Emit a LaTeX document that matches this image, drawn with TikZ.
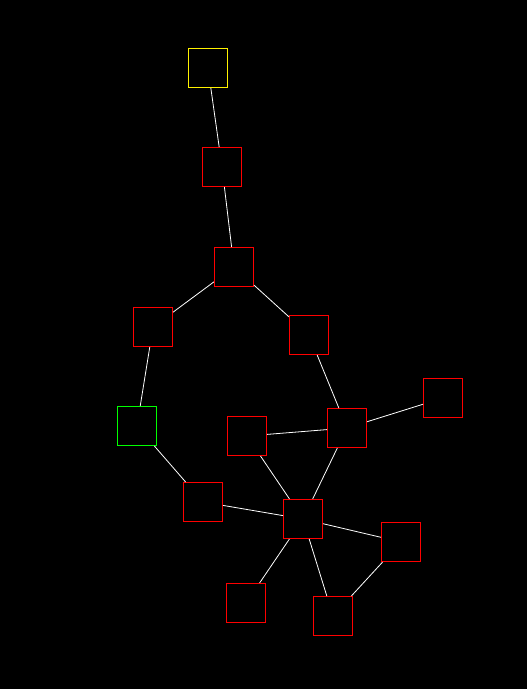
\documentclass[tikz,border=0pt]{standalone}
\begin{document}
\begin{tikzpicture}[x=1pt,y=-1pt,
  box/.style={draw=red,fill=black,line width=1pt,minimum size=39pt,inner sep=0pt,shape=rectangle},
  link/.style={draw=white,line width=0.8pt}]
\fill[black] (0,0) rectangle (527,689);
\useasboundingbox (0,0) rectangle (527,689);
\node[box,draw=yellow] (n1) at (208,68) {};
\node[box] (n2) at (222,167) {};
\node[box] (n3) at (234,267) {};
\node[box] (n4) at (153,327) {};
\node[box] (n5) at (309,335) {};
\node[box,draw=green] (n6) at (137,426) {};
\node[box] (n7) at (247,436) {};
\node[box] (n8) at (347,428) {};
\node[box] (n9) at (443,398) {};
\node[box] (n10) at (203,502) {};
\node[box] (n11) at (303,519) {};
\node[box] (n12) at (401,542) {};
\node[box] (n13) at (246,603) {};
\node[box] (n14) at (333,616) {};
\draw[link] (n1) -- (n2);
\draw[link] (n2) -- (n3);
\draw[link] (n3) -- (n4);
\draw[link] (n3) -- (n5);
\draw[link] (n4) -- (n6);
\draw[link] (n5) -- (n8);
\draw[link] (n6) -- (n10);
\draw[link] (n7) -- (n8);
\draw[link] (n8) -- (n9);
\draw[link] (n7) -- (n11);
\draw[link] (n8) -- (n11);
\draw[link] (n10) -- (n11);
\draw[link] (n11) -- (n12);
\draw[link] (n11) -- (n13);
\draw[link] (n11) -- (n14);
\draw[link] (n12) -- (n14);
\end{tikzpicture}
\end{document}
